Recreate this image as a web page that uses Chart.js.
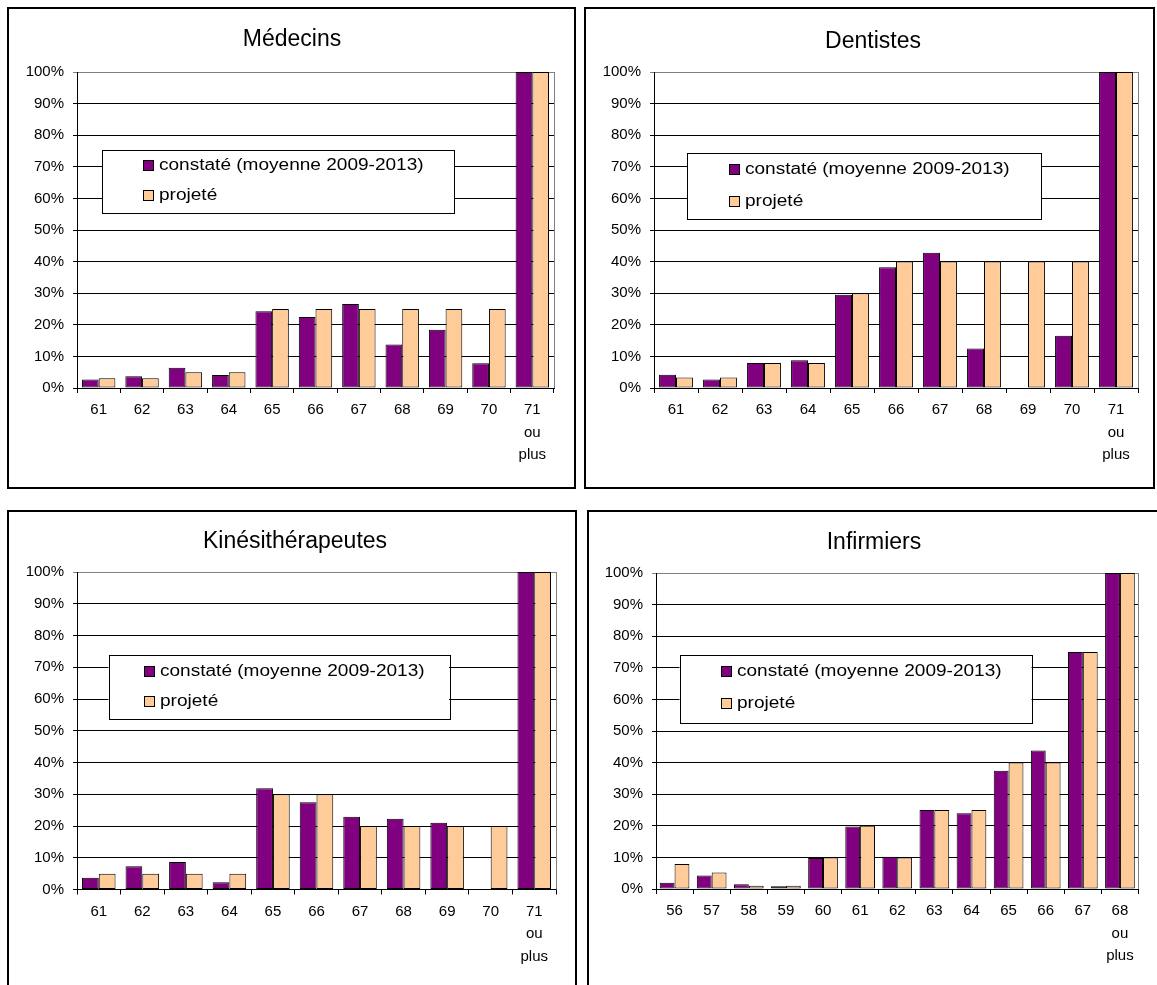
<!DOCTYPE html>
<html>
<head>
<meta charset="utf-8">
<script src="https://cdn.jsdelivr.net/npm/chart.js@4/dist/chart.umd.min.js"></script>
<style>
  html, body { margin: 0; padding: 0; background: #fff; }
  body { position: relative; width: 1157px; height: 985px; overflow: hidden; }
  .panel { position: absolute; box-sizing: border-box; border: 2px solid #000; background: #fff; overflow: hidden; }
  .panel canvas { position: absolute; left: 0; top: 0; }
</style>
</head>
<body>
<div class="panel" id="panel0"><canvas id="chart0"></canvas></div>
<div class="panel" id="panel1"><canvas id="chart1"></canvas></div>
<div class="panel" id="panel2"><canvas id="chart2"></canvas></div>
<div class="panel" id="panel3"><canvas id="chart3"></canvas></div>
<script>
// Âges de départ (catégories)
const agesLiberaux = ['61', '62', '63', '64', '65', '66', '67', '68', '69', '70', ['71', 'ou', 'plus']];
const agesInfirmiers = ['56', '57', '58', '59', '60', '61', '62', '63', '64', '65', '66', '67', ['68', 'ou', 'plus']];

// Libellés
const seriesLabels = ['constaté (moyenne 2009-2013)', 'projeté'];
const panelTitles = ['Médecins', 'Dentistes', 'Kinésithérapeutes', 'Infirmiers'];
const yTickLabels = ['0%', '10%', '20%', '30%', '40%', '50%', '60%', '70%', '80%', '90%', '100%'];

// Taux de départ (%)
const medecinsConstate   = [2.7, 3.7, 6.4, 4.1, 24.3, 22.5, 26.6, 13.8, 18.4, 7.8, 100];
const medecinsProjete    = [3.1, 3.1, 5.0, 5.0, 25, 25, 25, 25, 25, 25, 100];
const dentistesConstate  = [4.2, 2.7, 7.9, 8.8, 29.5, 38.2, 42.8, 12.5, 0, 16.5, 100];
const dentistesProjete   = [3.3, 3.3, 7.9, 7.9, 30, 40, 40, 40, 40, 40, 100];
const kinesConstate      = [3.7, 7.3, 8.7, 2.3, 31.9, 27.5, 22.9, 22.3, 21.0, 0, 100];
const kinesProjete       = [5, 5, 5, 5, 30, 30, 20, 20, 20, 20, 100];
const infirmiersConstate = [2.0, 4.3, 1.5, 0.9, 9.8, 19.8, 10.2, 25, 24.0, 37.4, 43.8, 75, 100];
const infirmiersProjete  = [7.9, 5.2, 1.0, 1.0, 10, 20, 10, 25, 25, 40, 40, 75, 100];

const PURPLE = '#800080';
const PEACH = '#FFCC99';
const FONT = '"Liberation Sans", Arial, Helvetica, sans-serif';

Chart.defaults.font.family = FONT;
Chart.defaults.color = '#000';

// Page layout of each panel: frame, plot area, title centre, legend frame
const panels = [
  { title: panelTitles[0], labels: agesLiberaux, constate: medecinsConstate, projete: medecinsProjete,
    box: [7, 7, 569, 482], area: [77, 72, 554, 388], titleX: 292, titleY: 40,
    legend: [102, 150, 352, 63], rows: [15, 45], markX: 41, cat: 0.77 },
  { title: panelTitles[1], labels: agesLiberaux, constate: dentistesConstate, projete: dentistesProjete,
    box: [584, 7, 571, 482], area: [654, 72, 1138, 388], titleX: 873, titleY: 41.5,
    legend: [687, 153, 354, 66], rows: [16, 48], markX: 42, cat: 0.77 },
  { title: panelTitles[2], labels: agesLiberaux, constate: kinesConstate, projete: kinesProjete,
    box: [7, 510, 570, 490], area: [77, 572, 556, 889.5], titleX: 295, titleY: 541.7,
    legend: [108.5, 655, 340.5, 64], rows: [16, 46], markX: 35, cat: 0.77 },
  { title: panelTitles[3], labels: agesInfirmiers, constate: infirmiersConstate, projete: infirmiersProjete,
    box: [587, 510, 575, 490], area: [656, 573, 1138.5, 889], titleX: 874, titleY: 542.7,
    legend: [679.5, 655, 352, 68], rows: [16, 48], markX: 41, cat: 0.8 }
];

// Grey frame on the right side of the plot area
const plotFrame = {
  id: 'plotFrame',
  beforeDatasetsDraw(chart) {
    const { ctx, chartArea } = chart;
    const x = Math.round(chartArea.right - 0.5) + 0.5;
    ctx.save();
    ctx.strokeStyle = '#808080';
    ctx.lineWidth = 1;
    ctx.beginPath();
    ctx.moveTo(x, chartArea.top);
    ctx.lineTo(x, chartArea.bottom);
    ctx.stroke();
    ctx.restore();
  }
};

// Centre the title on the whole panel rather than on the padded box
const titleCentre = {
  id: 'titleCentre',
  afterLayout(chart, args, opts) {
    const t = chart.titleBlock;
    if (!t) return;
    const half = Math.min(opts.x, chart.width - opts.x);
    t.left = opts.x - half;
    t.right = opts.x + half;
    t.width = 2 * half;
  }
};

// Framed legend placed inside the plot area
const boxedLegend = {
  id: 'boxedLegend',
  afterDraw(chart, args, opts) {
    const { ctx } = chart;
    const [x, y, w, h] = opts.rect;
    ctx.save();
    ctx.fillStyle = '#fff';
    ctx.fillRect(x, y, w, h);
    ctx.strokeStyle = '#000';
    ctx.lineWidth = 1;
    ctx.strokeRect(Math.round(x) + 0.5, Math.round(y) + 0.5, Math.round(w), Math.round(h));
    chart.data.datasets.forEach((ds, i) => {
      const cy = Math.round(y + opts.rows[i]);
      const mx = Math.round(x + opts.markX);
      ctx.fillStyle = ds.legendColor;
      ctx.fillRect(mx, cy - 5, 11, 11);
      ctx.strokeStyle = '#000';
      ctx.strokeRect(mx + 0.5, cy - 4.5, 10, 10);
      ctx.save();
      ctx.translate(mx + 16, cy + 1);
      ctx.scale(opts.stretch, 1);
      ctx.font = opts.fontSize + 'px ' + FONT;
      ctx.fillStyle = '#000';
      ctx.textBaseline = 'middle';
      ctx.textAlign = 'left';
      ctx.fillText(ds.label, 0, 0);
      ctx.restore();
    });
    ctx.restore();
  }
};

// Empty bars (0 %) leave no trace on the axis
const outline = c => (c.raw === 0 ? 0 : 1);
const fillOf = colour => c => (c.raw === 0 ? 'rgba(0,0,0,0)' : colour);

panels.forEach((p, idx) => {
  const div = document.getElementById('panel' + idx);
  const [bx, by, bw, bh] = p.box;
  div.style.left = bx + 'px';
  div.style.top = by + 'px';
  div.style.width = bw + 'px';
  div.style.height = bh + 'px';

  const ox = bx + 2, oy = by + 2;
  const W = bw - 4, H = bh - 4;
  const canvas = document.getElementById('chart' + idx);
  canvas.width = W;
  canvas.height = H;
  canvas.style.width = W + 'px';
  canvas.style.height = H + 'px';

  const L = p.area[0] - ox, T = p.area[1] - oy, R = p.area[2] - ox, B = p.area[3] - oy;
  const padR = W - R;
  const titleLine = 23 * 1.2;
  const titleTop = (p.titleY - oy) - titleLine / 2;
  const titleBottom = T - titleTop - titleLine;

  new Chart(canvas, {
    type: 'bar',
    data: {
      labels: p.labels,
      datasets: [
        { label: seriesLabels[0], data: p.constate, legendColor: PURPLE, backgroundColor: fillOf(PURPLE),
          borderColor: '#000', borderWidth: outline, borderSkipped: false,
          categoryPercentage: p.cat, barPercentage: 1 },
        { label: seriesLabels[1], data: p.projete, legendColor: PEACH, backgroundColor: fillOf(PEACH),
          borderColor: '#000', borderWidth: outline, borderSkipped: false,
          categoryPercentage: p.cat, barPercentage: 1 }
      ]
    },
    options: {
      responsive: false,
      animation: false,
      devicePixelRatio: 1,
      layout: { padding: { left: 0, right: padR, top: 0, bottom: 0 } },
      plugins: {
        legend: { display: false },
        tooltip: { enabled: false },
        title: {
          display: true,
          text: p.title,
          color: '#000',
          font: { family: FONT, size: 23, weight: 'normal', lineHeight: 1.2 },
          padding: { top: titleTop, bottom: titleBottom }
        },
        titleCentre: { x: p.titleX - ox },
        boxedLegend: {
          rect: [p.legend[0] - ox, p.legend[1] - oy, p.legend[2], p.legend[3]],
          rows: p.rows, markX: p.markX, fontSize: 16, stretch: 1.19
        }
      },
      scales: {
        x: {
          offset: true,
          ticks: { font: { size: 15, lineHeight: 1.5 }, color: '#000', padding: 6, maxRotation: 0, autoSkip: false },
          grid: { offset: true, drawOnChartArea: false, drawTicks: true, tickLength: 5, tickColor: '#000', lineWidth: 1 },
          border: { display: true, color: '#000', width: 1 },
          afterFit(scale) { scale.height = H - B; }
        },
        y: {
          min: 0, max: 100,
          ticks: { stepSize: 10, font: { size: 15 }, color: '#000', padding: 9,
                   callback: (v, i) => yTickLabels[i] },
          grid: {
            color: c => (c.tick && c.tick.value === 100 ? '#808080' : '#000'),
            tickColor: c => (c.tick && c.tick.value === 100 ? '#808080' : '#000'),
            tickLength: 4, lineWidth: 1, drawTicks: true
          },
          border: { display: true, color: '#000', width: 1 },
          afterFit(scale) { scale.width = L; }
        }
      }
    },
    plugins: [plotFrame, titleCentre, boxedLegend]
  });
});
</script>
</body>
</html>
